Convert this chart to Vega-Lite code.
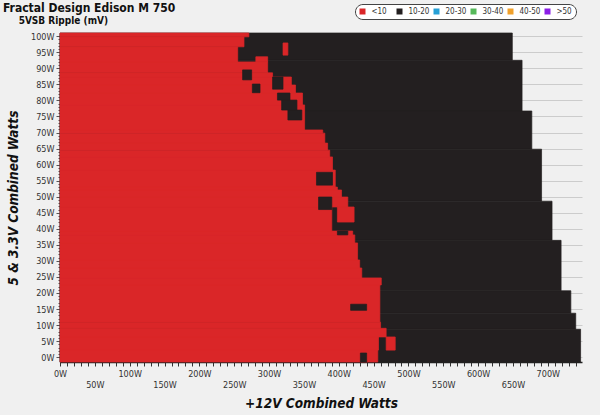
{
  "$schema": "https://vega.github.io/schema/vega-lite/v6.json",
  "width": 522,
  "height": 329,
  "autosize": {"type": "none"},
  "padding": {"left": 60, "top": 33, "right": 18, "bottom": 53},
  "background": "#f0f0f0",
  "title": {
    "text": "Fractal Design Edison M 750",
    "subtitle": "\u200b\u00a0\u00a0\u00a0\u00a0\u00a05VSB Ripple (mV)",
    "anchor": "start",
    "frame": "group",
    "dx": -57,
    "dy": 32,
    "offset": 9,
    "font": "Liberation Sans Narrow, DejaVu Sans Condensed, Liberation Sans",
    "fontSize": 12,
    "fontWeight": "bold",
    "color": "#111111",
    "subtitleFont": "Liberation Sans Narrow, DejaVu Sans Condensed, Liberation Sans",
    "subtitleFontSize": 10,
    "subtitleFontWeight": "bold",
    "subtitleColor": "#111111",
    "subtitlePadding": 1
  },
  "data": {
    "values": [
      {"y0": 92.5, "y1": 101, "x0": 0, "x1": 649, "c": "10-20"},
      {"y0": 76.7, "y1": 92.5, "x0": 0, "x1": 663, "c": "10-20"},
      {"y0": 64.8, "y1": 76.7, "x0": 0, "x1": 677, "c": "10-20"},
      {"y0": 48.6, "y1": 64.8, "x0": 0, "x1": 691, "c": "10-20"},
      {"y0": 36.4, "y1": 48.6, "x0": 0, "x1": 706, "c": "10-20"},
      {"y0": 20.7, "y1": 36.4, "x0": 0, "x1": 719, "c": "10-20"},
      {"y0": 13.7, "y1": 20.7, "x0": 0, "x1": 733, "c": "10-20"},
      {"y0": 8.7, "y1": 13.7, "x0": 0, "x1": 740, "c": "10-20"},
      {"y0": -1.5, "y1": 8.7, "x0": 0, "x1": 747, "c": "10-20"},

      {"y0": -1.5, "y1": 2.2, "x0": 0, "x1": 456, "c": "<10"},
      {"y0": 2.2, "y1": 6.3, "x0": 0, "x1": 457, "c": "<10"},
      {"y0": 6.3, "y1": 9.0, "x0": 0, "x1": 468, "c": "<10"},
      {"y0": 9.0, "y1": 10.9, "x0": 0, "x1": 460, "c": "<10"},
      {"y0": 10.9, "y1": 22.5, "x0": 0, "x1": 459, "c": "<10"},
      {"y0": 22.5, "y1": 24.7, "x0": 0, "x1": 461, "c": "<10"},
      {"y0": 24.7, "y1": 27.8, "x0": 0, "x1": 433, "c": "<10"},
      {"y0": 27.8, "y1": 30.3, "x0": 0, "x1": 430, "c": "<10"},
      {"y0": 30.3, "y1": 35.6, "x0": 0, "x1": 427, "c": "<10"},
      {"y0": 35.6, "y1": 38.1, "x0": 0, "x1": 423, "c": "<10"},
      {"y0": 38.1, "y1": 39.3, "x0": 0, "x1": 420, "c": "<10"},
      {"y0": 39.3, "y1": 46.8, "x0": 0, "x1": 390, "c": "<10"},
      {"y0": 46.8, "y1": 49.9, "x0": 0, "x1": 413, "c": "<10"},
      {"y0": 49.9, "y1": 52.1, "x0": 0, "x1": 404, "c": "<10"},
      {"y0": 52.1, "y1": 53.0, "x0": 0, "x1": 398, "c": "<10"},
      {"y0": 53.0, "y1": 58.3, "x0": 0, "x1": 395, "c": "<10"},
      {"y0": 58.3, "y1": 62.4, "x0": 0, "x1": 391, "c": "<10"},
      {"y0": 62.4, "y1": 64.5, "x0": 0, "x1": 387, "c": "<10"},
      {"y0": 64.5, "y1": 66.7, "x0": 0, "x1": 384, "c": "<10"},
      {"y0": 66.7, "y1": 69.8, "x0": 0, "x1": 380, "c": "<10"},
      {"y0": 69.8, "y1": 70.8, "x0": 0, "x1": 377, "c": "<10"},
      {"y0": 70.8, "y1": 78.6, "x0": 0, "x1": 351, "c": "<10"},
      {"y0": 78.6, "y1": 82.3, "x0": 0, "x1": 348, "c": "<10"},
      {"y0": 82.3, "y1": 84.8, "x0": 0, "x1": 338, "c": "<10"},
      {"y0": 84.8, "y1": 87.3, "x0": 0, "x1": 332, "c": "<10"},
      {"y0": 87.3, "y1": 88.6, "x0": 0, "x1": 305, "c": "<10"},
      {"y0": 88.6, "y1": 92.0, "x0": 0, "x1": 298, "c": "<10"},
      {"y0": 92.0, "y1": 96.7, "x0": 0, "x1": 255, "c": "<10"},
      {"y0": 96.7, "y1": 99.8, "x0": 0, "x1": 264, "c": "<10"},
      {"y0": 99.8, "y1": 101, "x0": 0, "x1": 271, "c": "<10"},

      {"y0": 2.2, "y1": 6.3, "x0": 468, "x1": 481, "c": "<10"},
      {"y0": 42.1, "y1": 46.8, "x0": 398, "x1": 422, "c": "<10"},
      {"y0": 92.0, "y1": 93.6, "x0": 281, "x1": 298, "c": "<10"},
      {"y0": 94.1, "y1": 97.9, "x0": 320, "x1": 327, "c": "<10"},

      {"y0": -1.5, "y1": 1.3, "x0": 431, "x1": 440, "c": "10-20"},
      {"y0": 14.6, "y1": 16.5, "x0": 417, "x1": 440, "c": "10-20"},
      {"y0": 38.1, "y1": 39.3, "x0": 398, "x1": 413, "c": "10-20"},
      {"y0": 46.0, "y1": 49.9, "x0": 371, "x1": 390, "c": "10-20"},
      {"y0": 53.6, "y1": 57.6, "x0": 368, "x1": 391, "c": "10-20"},
      {"y0": 73.9, "y1": 77.0, "x0": 327, "x1": 347, "c": "10-20"},
      {"y0": 77.0, "y1": 80.1, "x0": 318, "x1": 340, "c": "10-20"},
      {"y0": 80.1, "y1": 82.3, "x0": 312, "x1": 330, "c": "10-20"},
      {"y0": 82.4, "y1": 85.1, "x0": 276, "x1": 287, "c": "10-20"},
      {"y0": 83.5, "y1": 87.3, "x0": 305, "x1": 320, "c": "10-20"},
      {"y0": 86.4, "y1": 89.5, "x0": 262, "x1": 275, "c": "10-20"}
    ]
  },
  "mark": {"type": "rect", "strokeWidth": 0.7},
  "encoding": {
    "x": {
      "field": "x0",
      "type": "quantitative",
      "scale": {"domain": [0, 749], "nice": false, "zero": false},
      "title": "+12V Combined Watts",
      "axis": {
        "values": [0,10,20,30,40,50,60,70,80,90,100,110,120,130,140,150,160,170,180,190,200,210,220,230,240,250,260,270,280,290,300,310,320,330,340,350,360,370,380,390,400,410,420,430,440,450,460,470,480,490,500,510,520,530,540,550,560,570,580,590,600,610,620,630,640,650,660,670,680,690,700,710,720,730,740],
        "labelExpr": "datum.value % 50 === 0 ? datum.value + 'W' : ''",
        "labelPadding": {"condition": {"test": "datum.value % 100 !== 0", "value": 14}, "value": 3},
        "labelOverlap": false,
        "labelFlush": false,
        "labelFont": "Liberation Sans Narrow, DejaVu Sans Condensed, Liberation Sans",
        "labelFontSize": 9,
        "labelColor": "#333333",
        "tickSize": 4,
        "tickColor": "#333333",
        "domainColor": "#222222",
        "domainWidth": 1.5,
        "grid": false,
        "titleFont": "Liberation Sans Narrow, DejaVu Sans Condensed, Liberation Sans",
        "titleFontSize": 13.5,
        "titleFontWeight": "bold",
        "titleFontStyle": "italic",
        "titleColor": "#111111",
        "titlePadding": 7
      }
    },
    "x2": {"field": "x1"},
    "y": {
      "field": "y0",
      "type": "quantitative",
      "scale": {"domain": [-1.5, 101], "nice": false, "zero": false},
      "title": "5 & 3.3V Combined Watts",
      "axis": {
        "values": [0,1,2,3,4,5,6,7,8,9,10,11,12,13,14,15,16,17,18,19,20,21,22,23,24,25,26,27,28,29,30,31,32,33,34,35,36,37,38,39,40,41,42,43,44,45,46,47,48,49,50,51,52,53,54,55,56,57,58,59,60,61,62,63,64,65,66,67,68,69,70,71,72,73,74,75,76,77,78,79,80,81,82,83,84,85,86,87,88,89,90,91,92,93,94,95,96,97,98,99,100],
        "labelExpr": "datum.value % 5 === 0 ? datum.value + 'W' : ''",
        "labelOverlap": false,
        "labelFont": "Liberation Sans Narrow, DejaVu Sans Condensed, Liberation Sans",
        "labelFontSize": 9,
        "labelColor": "#333333",
        "tickSize": {"condition": {"test": "datum.value % 5 === 0", "value": 4}, "value": 2},
        "tickColor": "#555555",
        "domainColor": "#222222",
        "domainWidth": 1.5,
        "grid": true,
        "gridColor": "#cccccc",
        "gridOpacity": {"condition": {"test": "datum.value % 5 === 0", "value": 1}, "value": 0},
        "titleFont": "Liberation Sans Narrow, DejaVu Sans Condensed, Liberation Sans",
        "titleFontSize": 13.5,
        "titleFontWeight": "bold",
        "titleFontStyle": "italic",
        "titleColor": "#111111",
        "titlePadding": 10
      }
    },
    "y2": {"field": "y1"},
    "color": {
      "field": "c",
      "type": "nominal",
      "scale": {
        "domain": ["<10", "10-20", "20-30", "30-40", "40-50", ">50"],
        "range": ["#da2628", "#231f20", "#27a0d6", "#56b95a", "#f0a12c", "#8a1ee6"]
      },
      "legend": {
        "orient": "none",
        "legendX": 295,
        "legendY": -29,
        "direction": "horizontal",
        "columns": 6,
        "gridAlign": "all",
        "title": null,
        "symbolType": "square",
        "symbolSize": 36,
        "symbolStrokeWidth": 0,
        "labelFont": "Liberation Sans Narrow, DejaVu Sans Condensed, Liberation Sans",
        "labelFontSize": 8,
        "labelColor": "#333333",
        "labelOffset": 5,
        "columnPadding": 3,
        "padding": 3.5,
        "strokeColor": "#444444",
        "fillColor": "#ffffff",
        "cornerRadius": 8
      }
    },
    "stroke": {
      "field": "c",
      "type": "nominal",
      "scale": {
        "domain": ["<10", "10-20", "20-30", "30-40", "40-50", ">50"],
        "range": ["#da2628", "#231f20", "#27a0d6", "#56b95a", "#f0a12c", "#8a1ee6"]
      },
      "legend": null
    }
  },
  "config": {
    "view": {"stroke": null}
  }
}
